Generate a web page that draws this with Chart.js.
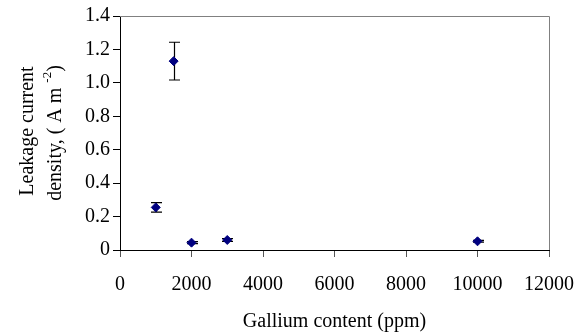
<!DOCTYPE html>
<html>
<head>
<meta charset="utf-8">
<script src="https://cdn.jsdelivr.net/npm/chart.js@4"></script>
<style>
html,body{margin:0;padding:0;background:#fff;}
#wrap{width:576px;height:334px;}
</style>
</head>
<body>
<div id="wrap"><canvas id="c" width="576" height="334"></canvas></div>
<script>
const gallium = [1000, 1500, 2000, 3000, 10000];
const leakage = [0.255, 1.130, 0.044, 0.060, 0.052];
const errors = [0.028, 0.113, 0.006, 0.008, 0.005];
const xTitle = 'Gallium content (ppm)';
const yTitleLine1 = 'Leakage current';
const yTitleLine2 = ['density, ( A m ', '-2', ')'];

const FONT = '"Liberation Serif", "Times New Roman", serif';

const errorBars = {
  id: 'errorBars',
  beforeDatasetsDraw(chart) {
    const ctx = chart.ctx, xs = chart.scales.x, ys = chart.scales.y;
    ctx.save();
    ctx.strokeStyle = '#000';
    ctx.lineWidth = 1.2;
    gallium.forEach((g, i) => {
      const px = Math.round(xs.getPixelForValue(g)) + 0.5;
      const top = ys.getPixelForValue(leakage[i] + errors[i]);
      const bot = ys.getPixelForValue(leakage[i] - errors[i]);
      ctx.beginPath();
      ctx.moveTo(px, top); ctx.lineTo(px, bot);
      ctx.moveTo(px - 5.5, top); ctx.lineTo(px + 5.5, top);
      ctx.moveTo(px - 5.5, bot); ctx.lineTo(px + 5.5, bot);
      ctx.stroke();
    });
    ctx.restore();
  }
};

const frame = {
  id: 'frame',
  afterDraw(chart) {
    const ctx = chart.ctx, a = chart.chartArea;
    ctx.save();
    ctx.strokeStyle = '#808080';
    ctx.lineWidth = 1;
    ctx.beginPath();
    ctx.moveTo(a.left, Math.round(a.top) + 0.5);
    ctx.lineTo(Math.round(a.right) + 0.5, Math.round(a.top) + 0.5);
    ctx.lineTo(Math.round(a.right) + 0.5, a.bottom);
    ctx.stroke();
    // y title
    ctx.fillStyle = '#000';
    ctx.textBaseline = 'alphabetic';
    const cy = (a.top + a.bottom) / 2;
    ctx.save();
    ctx.translate(33, cy - 2);
    ctx.rotate(-Math.PI / 2);
    ctx.font = '20px ' + FONT;
    ctx.textAlign = 'center';
    ctx.fillText(yTitleLine1, 0, 0);
    ctx.restore();
    ctx.save();
    ctx.translate(61, cy);
    ctx.rotate(-Math.PI / 2);
    ctx.textAlign = 'left';
    ctx.font = '20px ' + FONT;
    const w0 = ctx.measureText(yTitleLine2[0]).width;
    const w2 = ctx.measureText(yTitleLine2[2]).width;
    ctx.font = '13px ' + FONT;
    const w1 = ctx.measureText(yTitleLine2[1]).width;
    const total = w0 + w1 + w2;
    let x0 = -total / 2;
    ctx.font = '20px ' + FONT;
    ctx.fillText(yTitleLine2[0], x0, 0);
    ctx.font = '13px ' + FONT;
    ctx.fillText(yTitleLine2[1], x0 + w0, -10);
    ctx.font = '20px ' + FONT;
    ctx.fillText(yTitleLine2[2], x0 + w0 + w1, 0);
    ctx.restore();
    ctx.restore();
  }
};

new Chart(document.getElementById('c'), {
  type: 'scatter',
  data: {
    datasets: [{
      data: gallium.map((g, i) => ({x: g, y: leakage[i]})),
      pointStyle: 'rectRot',
      pointRadius: 4.5,
      pointHoverRadius: 4.5,
      backgroundColor: '#000080',
      borderColor: '#000080',
      borderWidth: 1
    }]
  },
  options: {
    responsive: false,
    animation: false,
    events: [],
    layout: {padding: {top: 16, right: 27, left: 0, bottom: 0}},
    plugins: {legend: {display: false}, tooltip: {enabled: false}},
    scales: {
      x: {
        type: 'linear',
        min: 0, max: 12000,
        afterFit(s) { s.height = 84; s.paddingRight = 0; s.paddingLeft = 0; },
        ticks: {stepSize: 2000, padding: 16, color: '#000', font: {family: FONT, size: 20}, maxRotation: 0,
          callback: v => String(v)},
        grid: {drawOnChartArea: false, drawTicks: true, tickLength: 7, color: '#000', tickColor: '#555'},
        border: {color: '#000', width: 1},
        title: {display: true, text: xTitle, color: '#000', font: {family: FONT, size: 20}, padding: {top: 2, bottom: 0}}
      },
      y: {
        min: 0, max: 1.4,
        afterFit(s) { s.width = 120; s.paddingTop = 0; s.paddingBottom = 0; },
        ticks: {stepSize: 0.2, padding: 3, color: '#000', font: {family: FONT, size: 20},
          callback: v => (Math.abs(v) < 1e-9 ? '0' : v.toFixed(1))},
        grid: {drawOnChartArea: false, drawTicks: true, tickLength: 7, color: '#000', tickColor: '#000'},
        border: {color: '#000', width: 1}
      }
    }
  },
  plugins: [errorBars, frame]
});
</script>
</body>
</html>
